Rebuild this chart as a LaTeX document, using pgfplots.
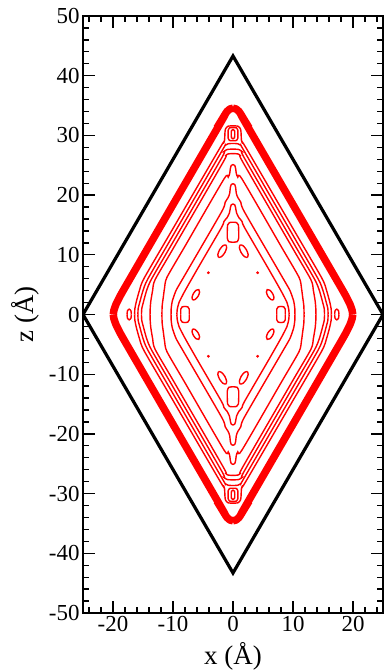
\documentclass[border=0pt]{standalone}
\usepackage{fontspec}
\setmainfont{Liberation Serif}
\usepackage{pgfplots}
\usepackage{pgfplotstable}
\pgfplotsset{compat=1.18}

% quarter contours (x>=0, z>=0), mirrored into the other quadrants
\pgfplotstableread{
x z
0 34.55
0.5 34.42
1.0 34.0
1.45 33.3
2.0 32.25
10.0 18.4
17.5 5.4
18.7 3.3
19.5 1.7
19.85 0.7
19.95 0
}\tCzero
\pgfplotstableread{
x z
0 31.6
0.8 31.55
1.25 31.1
1.35 30.3
1.4 29.3
1.6 28.6
2.0 28.2
10.0 14.4
14.8 6.1
15.6 4.0
16.1 2.2
16.35 1.0
16.4 0
}\tCone
\pgfplotstableread{
x z
0 28.65
0.8 28.6
1.3 28.35
1.7 27.65
10.0 13.26
14.2 5.95
15.0 4.0
15.5 2.2
15.8 1.0
15.85 0
}\tCtwo
\pgfplotstableread{
x z
0 27.7
0.9 27.65
1.5 27.3
1.9 26.2
10.0 12.13
13.6 5.9
14.4 4.0
14.9 2.2
15.2 1.0
15.25 0
}\tCthree
\pgfplotstableread{
x z
0 26.95
0.8 26.9
1.3 26.55
1.6 25.6
10.0 11.0
13.0 5.8
13.4 4.0
13.7 2.2
13.8 1.0
13.8 0
}\tCfour
\pgfplotstableread{
x z
0 25.1
0.3 24.95
0.45 24.4
0.55 23.6
0.8 23.0
1.5 22.7
8.0 11.44
11.0 6.24
11.4 4.5
11.6 3.0
11.8 1.5
11.85 0
}\tCfive
\pgfplotstableread{
x z
0 21.9
0.3 21.75
0.45 21.2
0.55 20.3
0.8 19.6
1.3 18.8
1.9 17.2
7.5 7.5
8.6 5.6
9.5 4.0
10.1 2.3
10.3 1.0
10.3 0
}\tCsix
\pgfplotstableread{
x z
0 18.5
0.3 18.35
0.45 17.8
0.6 17.0
1.0 16.2
1.5 15.6
1.9 14.6
5.6 8.2
7.2 5.4
8.2 3.6
9.0 2.0
9.3 0.8
9.35 0
}\tCseven
% small closed features
\pgfplotstableread{
x z
0 31.3
0.6 31.25
0.8 30.9
0.8 29.5
0.6 29.15
0 29.1
}\tRtop
\pgfplotstableread{
x z
0 31.0
0.25 30.8
0.3 30.2
0.25 29.6
0 29.4
}\tOtop
\pgfplotstableread{
x z
0 15.45
0.6 15.4
0.9 15.0
0.95 14.0
0.95 12.8
0.7 12.2
0 12.1
}\tRmid
\pgfplotstableread{
x z
7.3 0
7.3 0.9
7.5 1.25
8.0 1.35
8.5 1.25
8.7 0.9
8.7 0
}\tRside
\pgfplotstableread{
x z
16.95 0
17.0 0.6
17.3 0.9
17.6 0.6
17.65 0
}\tOside
\pgfplotstableread{
x z
2.4 9.56
2.53 10.04
2.23 10.85
1.68 11.51
1.2 11.64
1.07 11.16
1.37 10.35
1.92 9.69
2.4 9.56
}\tOa
\pgfplotstableread{
x z
6.7 2.43
6.83 2.85
6.59 3.53
6.12 4.07
5.7 4.17
5.57 3.75
5.81 3.08
6.28 2.53
6.7 2.43
}\tOb
\pgfplotstableread{
x z
4.1 7.0
}\tDot

\newcommand{\quadplot}[2]{%
\addplot[#2] table[x=x,y=z]{#1};
\addplot[#2] table[x expr=-\thisrow{x},y=z]{#1};
\addplot[#2] table[x=x,y expr=-\thisrow{z}]{#1};
\addplot[#2] table[x expr=-\thisrow{x},y expr=-\thisrow{z}]{#1};
}

\begin{document}
\begin{tikzpicture}
\begin{axis}[
  scale only axis, width=300bp, height=597bp,
  xmin=-25, xmax=25, ymin=-50, ymax=50,
  xtick={-20,-10,...,20}, ytick={-50,-40,...,50},
  minor xtick={-24,-22,...,24}, minor ytick={-48,-46,...,48},
  tick align=inside, major tick length=12bp, minor tick length=6bp,
  every tick/.append style={black, line width=1.3bp},
  axis line style={line width=1.8bp},
  tick label style={font=\fontsize{23}{26}\selectfont},
  /pgf/number format/assume math mode=true,
  xlabel={x (Å)}, ylabel={z (Å)},
  label style={font=\fontsize{27}{30}\selectfont, inner sep=0pt},
  xlabel style={at={(axis description cs:0.5,0)}, anchor=south, yshift=-57bp},
  ylabel style={at={(axis description cs:0,0.5)}, anchor=south, yshift=44bp},
  clip=true,
]
\addplot[black, line width=3.2bp, line join=miter] coordinates {(0,43.3) (25,0) (0,-43.3) (-25,0) (0,43.3) (25,0)};
\quadplot{\tCzero}{red, line width=7.5bp, smooth, tension=0.4}
\quadplot{\tCone}{red, line width=1.4bp, smooth, tension=0.4}
\quadplot{\tCtwo}{red, line width=1.4bp, smooth, tension=0.4}
\quadplot{\tCthree}{red, line width=1.4bp, smooth, tension=0.4}
\quadplot{\tCfour}{red, line width=1.4bp, smooth, tension=0.4}
\quadplot{\tCfive}{red, line width=1.4bp, smooth, tension=0.4}
\quadplot{\tCsix}{red, line width=1.4bp, smooth, tension=0.4}
\quadplot{\tCseven}{red, line width=1.4bp, smooth, tension=0.4}
\quadplot{\tRtop}{red, line width=1.4bp, smooth, tension=0.4}
\quadplot{\tOtop}{red, line width=1.4bp, smooth, tension=0.4}
\quadplot{\tRmid}{red, line width=1.4bp, smooth, tension=0.4}
\quadplot{\tRside}{red, line width=1.4bp, smooth, tension=0.4}
\quadplot{\tOside}{red, line width=1.4bp, smooth, tension=0.4}
\quadplot{\tOa}{red, line width=1.4bp, smooth, tension=0.5}
\quadplot{\tOb}{red, line width=1.4bp, smooth, tension=0.5}
\quadplot{\tDot}{red, only marks, mark=*, mark size=1.2bp}
\end{axis}
\path ([xshift=-83bp]current axis.west) ([yshift=16bp]current axis.north) ([yshift=-58bp]current axis.south);
\end{tikzpicture}
\end{document}
